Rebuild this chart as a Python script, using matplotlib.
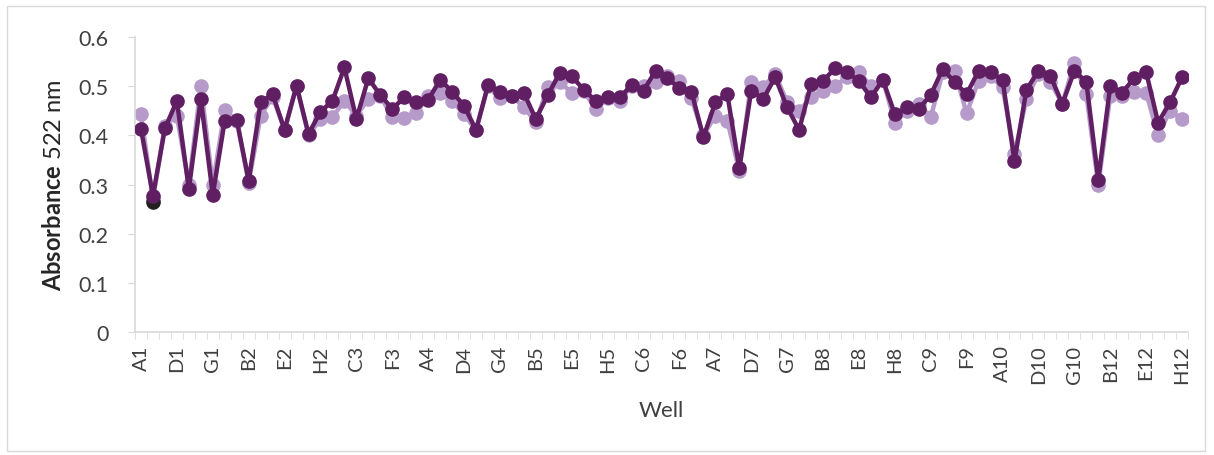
import numpy as np
import matplotlib.pyplot as plt
from matplotlib.patches import Rectangle

plt.rcParams['font.family'] = ['Lato', 'DejaVu Sans']
plt.rcParams['mathtext.fontset'] = 'custom'
plt.rcParams['mathtext.rm'] = 'Lato'
plt.rcParams['mathtext.bf'] = 'Lato:bold'

# 96-well plate read column by column; column 11 was not measured
rows = list('ABCDEFGH')
columns = [1, 2, 3, 4, 5, 6, 7, 8, 9, 10, 12]
wells = [f'{r}{c}' for c in columns for r in rows]

replicate_1 = [0.443, 0.270, 0.420, 0.440, 0.300, 0.501, 0.300, 0.451, 0.430, 0.303,
               0.440, 0.478, 0.411, 0.500, 0.400, 0.433, 0.437, 0.470, 0.440, 0.474,
               0.480, 0.437, 0.435, 0.445, 0.480, 0.487, 0.470, 0.443, 0.410, 0.500,
               0.475, 0.480, 0.457, 0.427, 0.498, 0.508, 0.487, 0.490, 0.454, 0.475,
               0.470, 0.500, 0.500, 0.508, 0.521, 0.511, 0.475, 0.400, 0.440, 0.430,
               0.328, 0.509, 0.498, 0.525, 0.467, 0.450, 0.477, 0.491, 0.501, 0.518,
               0.529, 0.500, 0.513, 0.426, 0.450, 0.464, 0.437, 0.528, 0.531, 0.445,
               0.511, 0.520, 0.498, 0.362, 0.474, 0.525, 0.508, 0.464, 0.548, 0.484,
               0.298, 0.480, 0.480, 0.489, 0.487, 0.400, 0.450, 0.433]

replicate_2 = [0.413, 0.277, 0.414, 0.470, 0.291, 0.474, 0.279, 0.430, 0.432, 0.308,
               0.467, 0.484, 0.411, 0.501, 0.403, 0.448, 0.470, 0.538, 0.433, 0.516,
               0.482, 0.454, 0.477, 0.468, 0.472, 0.513, 0.489, 0.460, 0.411, 0.502,
               0.489, 0.481, 0.486, 0.433, 0.482, 0.527, 0.520, 0.493, 0.470, 0.477,
               0.477, 0.502, 0.491, 0.531, 0.516, 0.496, 0.489, 0.396, 0.467, 0.484,
               0.333, 0.491, 0.474, 0.518, 0.457, 0.411, 0.504, 0.511, 0.536, 0.528,
               0.511, 0.477, 0.513, 0.443, 0.457, 0.454, 0.482, 0.535, 0.508, 0.484,
               0.531, 0.528, 0.513, 0.348, 0.493, 0.531, 0.521, 0.464, 0.531, 0.509,
               0.310, 0.500, 0.487, 0.516, 0.529, 0.426, 0.467, 0.518]

# single flagged reading
flagged_well = 'B1'
flagged_value = 0.265

light = '#b69ac9'
dark = '#601f62'
grey = '#d9d9d9'

fig = plt.figure(figsize=(12.14, 4.56), dpi=100)
fig.patches.append(Rectangle((7 / 1214, 4 / 456), 1198 / 1214, 445 / 456,
                             transform=fig.transFigure, fill=False,
                             edgecolor=grey, linewidth=1))
ax = fig.add_axes([135 / 1214, 1 - 333 / 456, 1053 / 1214, 295 / 456])

x = np.arange(len(wells))
ax.plot(x, replicate_1, color=light, lw=3.2, marker='o', ms=9.5, zorder=2)
ax.plot(wells.index(flagged_well), flagged_value, 'o', color='#231f20', ms=9.5, zorder=2.5)
ax.plot(x, replicate_2, color=dark, lw=3.2, marker='o', ms=9.5, zorder=3)

ax.set_xlim(-0.5, len(wells) - 0.5)
ax.set_ylim(0, 0.6)
ax.set_yticks(np.arange(0, 0.61, 0.1))
ax.set_yticklabels(['0', '0.1', '0.2', '0.3', '0.4', '0.5', '0.6'], fontsize=15.5, color='#404040')
ax.tick_params(axis='y', length=5, color=grey, pad=14)

ax.set_xticks(x[::3])
ax.set_xticklabels(wells[::3], rotation=90, fontsize=14.5, color='#404040')
ax.set_xticks(np.arange(-0.5, len(wells)), minor=True)
ax.tick_params(axis='x', which='major', length=0, pad=9)
ax.tick_params(axis='x', which='minor', length=5, color=grey)

for side in ['top', 'right']:
    ax.spines[side].set_visible(False)
for side in ['left', 'bottom']:
    ax.spines[side].set_color(grey)
    ax.spines[side].set_linewidth(1.2)

ax.set_xlabel('Well', fontsize=16, color='#404040', labelpad=12)
ax.set_ylabel(r'$\mathbf{Absorbance}$ 522 nm', fontsize=17, color='#262626', labelpad=10)

fig.savefig('out.png', dpi=100)
